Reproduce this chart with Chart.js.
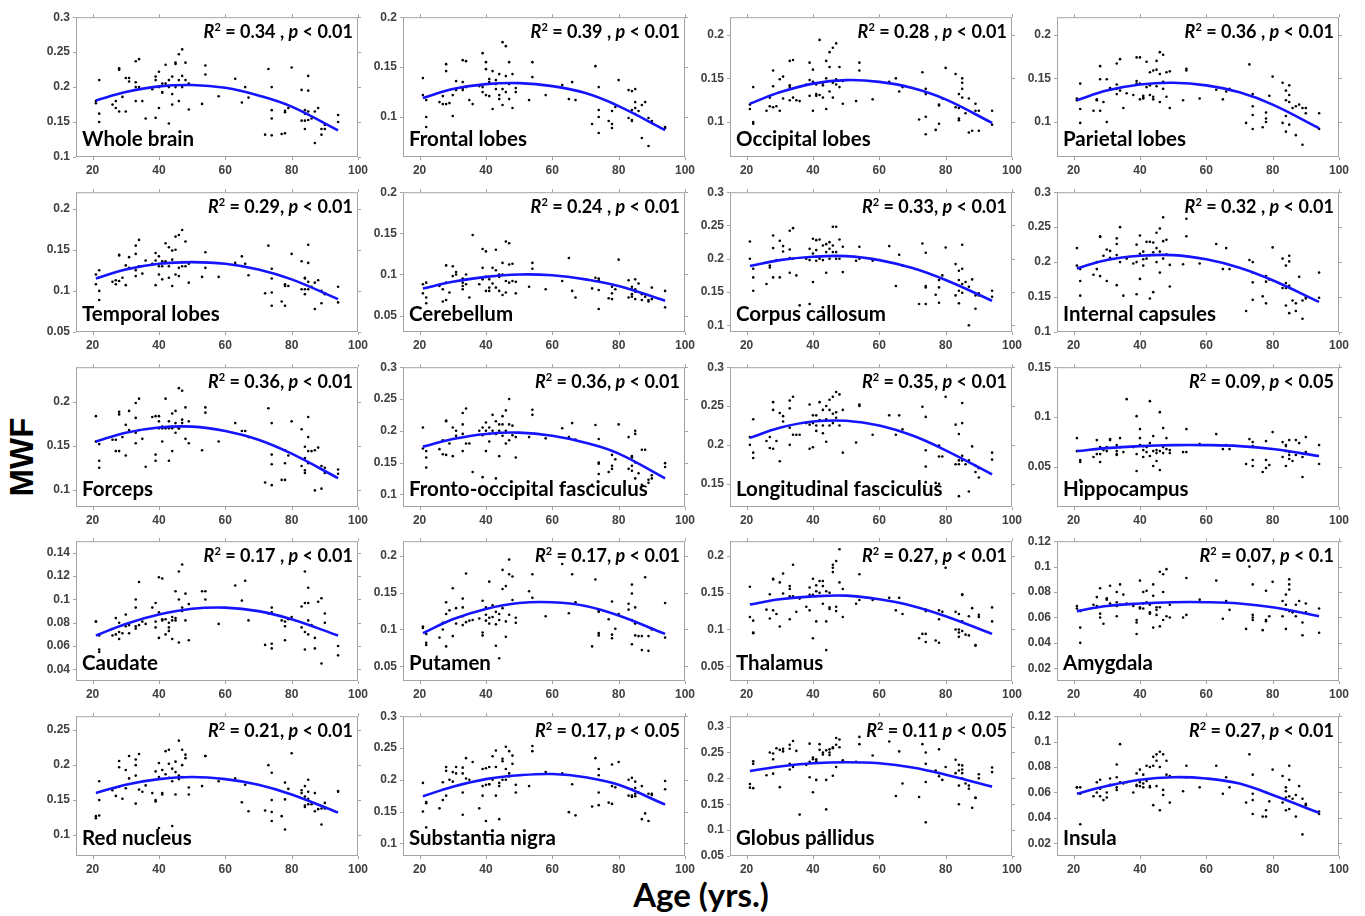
<!DOCTYPE html>
<html>
<head>
<meta charset="utf-8">
<title>MWF vs age</title>
<script src="https://cdn.jsdelivr.net/npm/chart.js@4.4.1/dist/chart.umd.min.js"></script>
<style>
  body { margin: 0; background: #fff; }
  #fig { position: relative; width: 1365px; height: 916px; overflow: hidden; }
  .panel { position: absolute; }
  .panel canvas { display: block; }
  .ylab { position: absolute; left: 22px; top: 457px; transform: translate(-50%, -50%) rotate(-90deg);
          font: bold 33px "Liberation Sans", Arial, sans-serif; color: #000; }
  .xlab { position: absolute; left: 701px; top: 894px; transform: translate(-50%, -50%);
          font: bold 33px Lato, sans-serif; color: #000; white-space: nowrap; }
</style>
</head>
<body>
<div id="fig">
  <div class="ylab">MWF</div>
  <div class="xlab">Age (yrs.)</div>
</div>
<script>
// subject ages (same subjects in every region)
const AGES = [21, 21, 22, 22, 22, 26, 27, 27, 28, 28, 28, 29, 30, 30, 31, 31,
  33, 33, 33, 33, 34, 34, 35, 36, 38, 39, 39, 39, 40, 40, 40, 41, 41, 41, 42, 42,
  43, 43, 43, 44, 44, 44, 45, 45, 45, 46, 46, 46, 47, 47, 47, 48, 48, 49, 49,
  53, 54, 54, 58, 63, 65, 66, 67, 72, 73, 74, 74, 74, 74, 77, 78, 78, 78, 79, 80,
  83, 83, 84, 84, 84, 84, 85, 85, 85, 85, 86, 87, 87, 88, 89, 89, 90, 90, 94, 94];

// ages where the quadratic fits are sampled
const FIT_AGES = [21, 30, 40, 50, 60, 70, 80, 94];
const X_TICKS = [20, 40, 60, 80, 100];

const wholeBrain = [0.177, 0.180, 0.210, 0.162, 0.150, 0.175, 0.170, 0.180, 0.227, 0.225, 0.165, 0.186, 0.213, 0.165, 0.213, 0.208,
  0.237, 0.207, 0.200, 0.180, 0.240, 0.200, 0.180, 0.155, 0.197, 0.215, 0.210, 0.156, 0.200, 0.170, 0.222, 0.205, 0.193, 0.192, 0.232, 0.205,
  0.148, 0.200, 0.210, 0.175, 0.215, 0.190, 0.235, 0.233, 0.200, 0.247, 0.210, 0.180, 0.254, 0.216, 0.200, 0.235, 0.210, 0.205, 0.168,
  0.176, 0.231, 0.218, 0.187, 0.212, 0.178, 0.200, 0.185, 0.132, 0.226, 0.200, 0.167, 0.155, 0.131, 0.133, 0.166, 0.164, 0.134, 0.170, 0.228,
  0.196, 0.152, 0.167, 0.162, 0.152, 0.140, 0.216, 0.195, 0.165, 0.153, 0.155, 0.120, 0.165, 0.170, 0.140, 0.132, 0.140, 0.146, 0.160, 0.150];
const wholeBrainFit = [0.181, 0.193, 0.201, 0.203, 0.199, 0.188, 0.172, 0.138];

const frontal = [0.122, 0.139, 0.100, 0.090, 0.117, 0.115, 0.121, 0.113, 0.153, 0.146, 0.113, 0.114, 0.101, 0.122, 0.127, 0.136,
  0.157, 0.129, 0.135, 0.127, 0.156, 0.130, 0.117, 0.113, 0.131, 0.164, 0.125, 0.130, 0.155, 0.122, 0.148, 0.121, 0.135, 0.138, 0.146, 0.108,
  0.128, 0.137, 0.133, 0.122, 0.143, 0.118, 0.175, 0.128, 0.112, 0.171, 0.141, 0.125, 0.155, 0.133, 0.118, 0.143, 0.109, 0.125, 0.129,
  0.117, 0.155, 0.140, 0.122, 0.132, 0.118, 0.135, 0.117, 0.093, 0.151, 0.130, 0.107, 0.100, 0.084, 0.096, 0.106, 0.093, 0.089, 0.110, 0.137,
  0.127, 0.099, 0.126, 0.097, 0.107, 0.096, 0.128, 0.109, 0.103, 0.115, 0.106, 0.079, 0.112, 0.115, 0.071, 0.099, 0.096, 0.094, 0.089, 0.090];
const frontalFit = [0.119, 0.128, 0.133, 0.134, 0.131, 0.124, 0.111, 0.087];

const occipital = [0.115, 0.120, 0.140, 0.100, 0.098, 0.113, 0.118, 0.128, 0.159, 0.141, 0.117, 0.118, 0.149, 0.113, 0.152, 0.127,
  0.170, 0.142, 0.140, 0.125, 0.171, 0.128, 0.125, 0.124, 0.143, 0.168, 0.148, 0.130, 0.113, 0.160, 0.146, 0.132, 0.130, 0.143, 0.194, 0.131,
  0.142, 0.145, 0.128, 0.170, 0.115, 0.150, 0.163, 0.135, 0.180, 0.185, 0.145, 0.128, 0.190, 0.149, 0.143, 0.163, 0.140, 0.121, 0.147,
  0.124, 0.168, 0.159, 0.126, 0.146, 0.150, 0.135, 0.140, 0.103, 0.157, 0.138, 0.132, 0.106, 0.086, 0.091, 0.120, 0.119, 0.098, 0.127, 0.162,
  0.155, 0.117, 0.132, 0.116, 0.104, 0.102, 0.150, 0.145, 0.138, 0.128, 0.110, 0.127, 0.088, 0.090, 0.121, 0.113, 0.113, 0.090, 0.113, 0.097];
const occipitalFit = [0.121, 0.134, 0.144, 0.148, 0.146, 0.139, 0.126, 0.099];

const parietal = [0.125, 0.127, 0.144, 0.115, 0.099, 0.113, 0.126, 0.125, 0.164, 0.149, 0.113, 0.123, 0.149, 0.100, 0.139, 0.138,
  0.167, 0.143, 0.138, 0.132, 0.172, 0.136, 0.116, 0.133, 0.131, 0.174, 0.147, 0.144, 0.174, 0.126, 0.144, 0.130, 0.127, 0.128, 0.169, 0.140,
  0.157, 0.142, 0.131, 0.159, 0.129, 0.126, 0.170, 0.160, 0.141, 0.180, 0.155, 0.123, 0.177, 0.138, 0.146, 0.157, 0.129, 0.158, 0.116,
  0.125, 0.161, 0.159, 0.127, 0.137, 0.126, 0.135, 0.138, 0.099, 0.166, 0.132, 0.118, 0.108, 0.092, 0.094, 0.111, 0.104, 0.100, 0.130, 0.152,
  0.145, 0.099, 0.136, 0.125, 0.107, 0.089, 0.142, 0.131, 0.123, 0.097, 0.116, 0.085, 0.118, 0.120, 0.074, 0.116, 0.116, 0.110, 0.110, 0.092];
const parietalFit = [0.125, 0.136, 0.143, 0.145, 0.142, 0.134, 0.120, 0.093];

const temporal = [0.108, 0.120, 0.125, 0.100, 0.089, 0.111, 0.108, 0.113, 0.144, 0.143, 0.112, 0.116, 0.131, 0.107, 0.141, 0.128,
  0.155, 0.145, 0.125, 0.118, 0.162, 0.130, 0.121, 0.137, 0.133, 0.146, 0.137, 0.107, 0.142, 0.120, 0.130, 0.136, 0.130, 0.114, 0.158, 0.136,
  0.153, 0.130, 0.116, 0.149, 0.138, 0.106, 0.166, 0.150, 0.120, 0.168, 0.128, 0.118, 0.174, 0.135, 0.130, 0.160, 0.130, 0.133, 0.110,
  0.117, 0.147, 0.128, 0.117, 0.134, 0.142, 0.133, 0.119, 0.097, 0.155, 0.127, 0.115, 0.098, 0.082, 0.087, 0.108, 0.106, 0.082, 0.106, 0.145,
  0.136, 0.102, 0.116, 0.115, 0.102, 0.096, 0.156, 0.134, 0.111, 0.102, 0.105, 0.078, 0.110, 0.113, 0.100, 0.085, 0.096, 0.097, 0.105, 0.086];
const temporalFit = [0.115, 0.126, 0.133, 0.135, 0.133, 0.126, 0.114, 0.090];

const cerebellum = [0.077, 0.088, 0.090, 0.072, 0.065, 0.086, 0.082, 0.067, 0.111, 0.090, 0.069, 0.078, 0.110, 0.098, 0.100, 0.103,
  0.095, 0.090, 0.086, 0.082, 0.100, 0.088, 0.072, 0.148, 0.088, 0.131, 0.108, 0.094, 0.128, 0.097, 0.080, 0.094, 0.084, 0.080, 0.108, 0.089,
  0.130, 0.105, 0.084, 0.100, 0.097, 0.080, 0.114, 0.100, 0.075, 0.140, 0.092, 0.078, 0.138, 0.112, 0.090, 0.113, 0.092, 0.091, 0.077,
  0.085, 0.114, 0.107, 0.082, 0.092, 0.120, 0.080, 0.072, 0.083, 0.096, 0.095, 0.093, 0.081, 0.058, 0.071, 0.085, 0.077, 0.070, 0.082, 0.118,
  0.093, 0.072, 0.085, 0.082, 0.076, 0.073, 0.094, 0.082, 0.079, 0.070, 0.089, 0.069, 0.076, 0.073, 0.067, 0.069, 0.084, 0.070, 0.080, 0.060];
const cerebellumFit = [0.083, 0.091, 0.097, 0.100, 0.099, 0.094, 0.086, 0.068];

const corpusCallosum = [0.200, 0.226, 0.185, 0.172, 0.152, 0.162, 0.190, 0.187, 0.235, 0.216, 0.172, 0.198, 0.227, 0.172, 0.219, 0.211,
  0.242, 0.214, 0.201, 0.179, 0.246, 0.200, 0.175, 0.130, 0.200, 0.215, 0.198, 0.132, 0.230, 0.208, 0.165, 0.228, 0.213, 0.197, 0.229, 0.200,
  0.220, 0.198, 0.127, 0.222, 0.210, 0.179, 0.225, 0.215, 0.200, 0.248, 0.220, 0.210, 0.248, 0.210, 0.200, 0.229, 0.200, 0.218, 0.180,
  0.197, 0.218, 0.200, 0.197, 0.219, 0.159, 0.206, 0.190, 0.132, 0.223, 0.209, 0.159, 0.157, 0.132, 0.146, 0.168, 0.157, 0.134, 0.175, 0.217,
  0.192, 0.145, 0.182, 0.168, 0.152, 0.133, 0.221, 0.185, 0.162, 0.149, 0.165, 0.100, 0.158, 0.169, 0.125, 0.145, 0.148, 0.145, 0.152, 0.143];
const corpusCallosumFit = [0.189, 0.198, 0.203, 0.204, 0.198, 0.186, 0.168, 0.137];

const internalCapsules = [0.195, 0.220, 0.190, 0.173, 0.152, 0.182, 0.190, 0.200, 0.237, 0.236, 0.180, 0.209, 0.218, 0.173, 0.216, 0.206,
  0.234, 0.226, 0.210, 0.167, 0.250, 0.200, 0.152, 0.205, 0.198, 0.225, 0.200, 0.154, 0.238, 0.212, 0.176, 0.215, 0.204, 0.195, 0.229, 0.205,
  0.229, 0.210, 0.148, 0.228, 0.214, 0.157, 0.242, 0.220, 0.200, 0.248, 0.215, 0.185, 0.264, 0.230, 0.205, 0.232, 0.211, 0.196, 0.165,
  0.197, 0.262, 0.237, 0.198, 0.226, 0.190, 0.220, 0.190, 0.130, 0.203, 0.200, 0.185, 0.171, 0.146, 0.151, 0.180, 0.172, 0.141, 0.175, 0.221,
  0.205, 0.163, 0.195, 0.170, 0.163, 0.138, 0.209, 0.201, 0.166, 0.127, 0.145, 0.130, 0.141, 0.179, 0.119, 0.145, 0.148, 0.150, 0.185, 0.149];
const internalCapsulesFit = [0.191, 0.203, 0.209, 0.210, 0.204, 0.192, 0.174, 0.143];

const forceps = [0.155, 0.184, 0.152, 0.133, 0.125, 0.157, 0.144, 0.157, 0.189, 0.186, 0.144, 0.160, 0.174, 0.139, 0.190, 0.168,
  0.199, 0.182, 0.165, 0.153, 0.204, 0.168, 0.158, 0.126, 0.183, 0.184, 0.140, 0.133, 0.184, 0.178, 0.170, 0.172, 0.155, 0.170, 0.204, 0.170,
  0.178, 0.170, 0.133, 0.187, 0.170, 0.144, 0.190, 0.176, 0.165, 0.216, 0.170, 0.170, 0.213, 0.180, 0.176, 0.194, 0.158, 0.178, 0.153,
  0.145, 0.194, 0.188, 0.155, 0.176, 0.167, 0.167, 0.160, 0.108, 0.193, 0.176, 0.140, 0.129, 0.105, 0.111, 0.145, 0.130, 0.111, 0.139, 0.178,
  0.169, 0.127, 0.149, 0.136, 0.122, 0.119, 0.183, 0.160, 0.144, 0.130, 0.144, 0.099, 0.145, 0.148, 0.101, 0.127, 0.119, 0.125, 0.123, 0.118];
const forcepsFit = [0.155, 0.165, 0.171, 0.172, 0.167, 0.157, 0.141, 0.113];

const frontoOccipital = [0.172, 0.205, 0.168, 0.158, 0.142, 0.171, 0.185, 0.163, 0.216, 0.215, 0.162, 0.180, 0.205, 0.160, 0.200, 0.192,
  0.228, 0.210, 0.195, 0.168, 0.235, 0.180, 0.180, 0.135, 0.200, 0.205, 0.193, 0.127, 0.213, 0.200, 0.168, 0.205, 0.195, 0.183, 0.225, 0.200,
  0.215, 0.195, 0.125, 0.210, 0.200, 0.160, 0.223, 0.210, 0.192, 0.232, 0.200, 0.180, 0.250, 0.210, 0.185, 0.208, 0.193, 0.190, 0.158,
  0.190, 0.233, 0.225, 0.188, 0.204, 0.190, 0.212, 0.186, 0.115, 0.209, 0.187, 0.150, 0.148, 0.132, 0.135, 0.162, 0.145, 0.140, 0.155, 0.210,
  0.190, 0.140, 0.160, 0.158, 0.145, 0.137, 0.200, 0.195, 0.150, 0.125, 0.133, 0.115, 0.170, 0.170, 0.123, 0.118, 0.125, 0.130, 0.149, 0.143];
const frontoOccipitalFit = [0.175, 0.187, 0.195, 0.197, 0.192, 0.181, 0.164, 0.125];

const longitudinal = [0.200, 0.210, 0.233, 0.190, 0.183, 0.205, 0.196, 0.210, 0.255, 0.245, 0.195, 0.205, 0.241, 0.179, 0.237, 0.230,
  0.257, 0.247, 0.222, 0.200, 0.262, 0.213, 0.213, 0.213, 0.228, 0.252, 0.226, 0.195, 0.238, 0.228, 0.197, 0.238, 0.225, 0.218, 0.255, 0.232,
  0.245, 0.225, 0.215, 0.250, 0.233, 0.204, 0.258, 0.245, 0.225, 0.262, 0.240, 0.228, 0.268, 0.242, 0.235, 0.265, 0.225, 0.245, 0.190,
  0.203, 0.252, 0.250, 0.213, 0.238, 0.213, 0.238, 0.220, 0.150, 0.249, 0.236, 0.193, 0.172, 0.152, 0.151, 0.199, 0.185, 0.150, 0.185, 0.262,
  0.226, 0.175, 0.214, 0.180, 0.175, 0.134, 0.254, 0.228, 0.186, 0.180, 0.175, 0.140, 0.180, 0.198, 0.173, 0.165, 0.158, 0.170, 0.190, 0.181];
const longitudinalFit = [0.209, 0.222, 0.230, 0.231, 0.225, 0.212, 0.193, 0.162];

const hippocampus = [0.066, 0.079, 0.057, 0.055, 0.037, 0.060, 0.077, 0.063, 0.070, 0.063, 0.055, 0.067, 0.070, 0.066, 0.078, 0.077,
  0.072, 0.066, 0.063, 0.062, 0.079, 0.070, 0.065, 0.118, 0.070, 0.101, 0.063, 0.046, 0.088, 0.079, 0.072, 0.071, 0.067, 0.060, 0.070, 0.065,
  0.116, 0.074, 0.061, 0.081, 0.066, 0.051, 0.067, 0.064, 0.056, 0.105, 0.066, 0.047, 0.089, 0.070, 0.064, 0.079, 0.068, 0.067, 0.064,
  0.065, 0.088, 0.065, 0.073, 0.083, 0.068, 0.072, 0.068, 0.053, 0.078, 0.075, 0.071, 0.057, 0.051, 0.045, 0.076, 0.057, 0.049, 0.052, 0.085,
  0.075, 0.060, 0.072, 0.071, 0.066, 0.051, 0.077, 0.065, 0.062, 0.058, 0.056, 0.077, 0.062, 0.074, 0.040, 0.060, 0.080, 0.065, 0.072, 0.053];
const hippocampusFit = [0.066, 0.069, 0.071, 0.072, 0.072, 0.071, 0.068, 0.061];

const caudate = [0.081, 0.081, 0.057, 0.055, 0.069, 0.069, 0.084, 0.070, 0.080, 0.072, 0.066, 0.071, 0.087, 0.077, 0.078, 0.071,
  0.100, 0.093, 0.077, 0.075, 0.115, 0.078, 0.081, 0.079, 0.093, 0.097, 0.081, 0.076, 0.119, 0.089, 0.067, 0.118, 0.082, 0.083, 0.083, 0.070,
  0.080, 0.076, 0.073, 0.085, 0.082, 0.066, 0.107, 0.084, 0.082, 0.124, 0.100, 0.063, 0.130, 0.093, 0.090, 0.105, 0.082, 0.096, 0.065,
  0.107, 0.107, 0.100, 0.079, 0.112, 0.099, 0.116, 0.082, 0.061, 0.088, 0.093, 0.089, 0.062, 0.058, 0.082, 0.081, 0.077, 0.065, 0.083, 0.085,
  0.094, 0.076, 0.124, 0.097, 0.072, 0.057, 0.110, 0.097, 0.082, 0.070, 0.078, 0.067, 0.058, 0.098, 0.101, 0.045, 0.088, 0.080, 0.060, 0.052];
const caudateFit = [0.069, 0.079, 0.087, 0.092, 0.093, 0.090, 0.083, 0.069];

const putamen = [0.102, 0.104, 0.082, 0.079, 0.094, 0.089, 0.100, 0.109, 0.137, 0.121, 0.077, 0.126, 0.156, 0.091, 0.129, 0.108,
  0.142, 0.130, 0.118, 0.106, 0.176, 0.110, 0.112, 0.113, 0.115, 0.139, 0.096, 0.092, 0.130, 0.120, 0.112, 0.165, 0.116, 0.108, 0.133, 0.117,
  0.124, 0.107, 0.078, 0.121, 0.113, 0.061, 0.181, 0.155, 0.129, 0.159, 0.111, 0.090, 0.195, 0.175, 0.120, 0.172, 0.140, 0.116, 0.109,
  0.152, 0.175, 0.143, 0.118, 0.189, 0.122, 0.175, 0.137, 0.077, 0.168, 0.126, 0.124, 0.095, 0.092, 0.114, 0.138, 0.093, 0.088, 0.101, 0.121,
  0.135, 0.127, 0.161, 0.149, 0.113, 0.080, 0.130, 0.110, 0.108, 0.092, 0.091, 0.072, 0.091, 0.171, 0.071, 0.091, 0.101, 0.100, 0.136, 0.089];
const putamenFit = [0.095, 0.114, 0.128, 0.136, 0.137, 0.132, 0.119, 0.094];

const thalamus = [0.158, 0.117, 0.112, 0.096, 0.095, 0.127, 0.115, 0.148, 0.169, 0.168, 0.126, 0.121, 0.164, 0.104, 0.176, 0.149,
  0.159, 0.155, 0.145, 0.114, 0.188, 0.145, 0.124, 0.142, 0.131, 0.157, 0.147, 0.126, 0.169, 0.147, 0.088, 0.160, 0.152, 0.111, 0.166, 0.150,
  0.166, 0.159, 0.135, 0.152, 0.111, 0.072, 0.150, 0.130, 0.128, 0.188, 0.184, 0.178, 0.193, 0.131, 0.125, 0.209, 0.164, 0.155, 0.117,
  0.135, 0.175, 0.140, 0.140, 0.143, 0.126, 0.143, 0.121, 0.088, 0.094, 0.127, 0.125, 0.094, 0.083, 0.085, 0.126, 0.114, 0.082, 0.124, 0.184,
  0.124, 0.100, 0.121, 0.100, 0.096, 0.090, 0.148, 0.147, 0.111, 0.098, 0.093, 0.092, 0.118, 0.129, 0.079, 0.078, 0.117, 0.120, 0.130, 0.111];
const thalamusFit = [0.134, 0.141, 0.145, 0.146, 0.141, 0.132, 0.118, 0.094];

const amygdala = [0.067, 0.069, 0.052, 0.040, 0.065, 0.070, 0.069, 0.076, 0.083, 0.063, 0.060, 0.055, 0.075, 0.074, 0.085, 0.071,
  0.080, 0.072, 0.069, 0.061, 0.086, 0.070, 0.078, 0.071, 0.069, 0.058, 0.056, 0.047, 0.089, 0.068, 0.067, 0.080, 0.067, 0.071, 0.081, 0.072,
  0.070, 0.064, 0.063, 0.086, 0.077, 0.052, 0.068, 0.066, 0.062, 0.096, 0.068, 0.053, 0.094, 0.080, 0.058, 0.098, 0.061, 0.070, 0.060,
  0.060, 0.091, 0.062, 0.074, 0.089, 0.059, 0.073, 0.066, 0.051, 0.100, 0.086, 0.062, 0.060, 0.058, 0.050, 0.081, 0.058, 0.057, 0.061, 0.088,
  0.073, 0.061, 0.078, 0.070, 0.066, 0.051, 0.090, 0.086, 0.082, 0.065, 0.064, 0.070, 0.061, 0.073, 0.046, 0.056, 0.071, 0.064, 0.067, 0.048];
const amygdalaFit = [0.065, 0.069, 0.071, 0.072, 0.072, 0.071, 0.068, 0.061];

const redNucleus = [0.124, 0.127, 0.128, 0.177, 0.150, 0.164, 0.156, 0.168, 0.206, 0.197, 0.169, 0.152, 0.193, 0.167, 0.213, 0.181,
  0.208, 0.200, 0.185, 0.145, 0.216, 0.165, 0.162, 0.171, 0.160, 0.191, 0.150, 0.148, 0.203, 0.183, 0.110, 0.193, 0.158, 0.160, 0.220, 0.187,
  0.222, 0.202, 0.182, 0.195, 0.177, 0.113, 0.205, 0.190, 0.158, 0.235, 0.185, 0.180, 0.222, 0.200, 0.183, 0.215, 0.210, 0.168, 0.158,
  0.170, 0.213, 0.213, 0.177, 0.181, 0.147, 0.172, 0.134, 0.135, 0.200, 0.189, 0.150, 0.133, 0.120, 0.127, 0.175, 0.151, 0.108, 0.166, 0.217,
  0.164, 0.160, 0.170, 0.155, 0.142, 0.140, 0.179, 0.162, 0.152, 0.144, 0.144, 0.134, 0.160, 0.137, 0.115, 0.138, 0.146, 0.138, 0.163, 0.162];
const redNucleusFit = [0.160, 0.172, 0.180, 0.183, 0.180, 0.172, 0.158, 0.132];

const substantiaNigra = [0.150, 0.195, 0.165, 0.163, 0.125, 0.155, 0.168, 0.196, 0.220, 0.214, 0.175, 0.200, 0.212, 0.197, 0.220, 0.210,
  0.219, 0.210, 0.180, 0.145, 0.234, 0.202, 0.200, 0.228, 0.155, 0.217, 0.190, 0.175, 0.218, 0.192, 0.135, 0.220, 0.193, 0.193, 0.237, 0.200,
  0.246, 0.220, 0.175, 0.195, 0.190, 0.138, 0.233, 0.229, 0.200, 0.252, 0.217, 0.200, 0.245, 0.210, 0.205, 0.238, 0.225, 0.192, 0.180,
  0.190, 0.253, 0.245, 0.212, 0.210, 0.149, 0.193, 0.144, 0.158, 0.234, 0.217, 0.207, 0.180, 0.160, 0.164, 0.224, 0.190, 0.162, 0.188, 0.228,
  0.200, 0.175, 0.203, 0.185, 0.175, 0.173, 0.197, 0.187, 0.178, 0.174, 0.180, 0.138, 0.190, 0.147, 0.135, 0.178, 0.178, 0.176, 0.198, 0.185];
const substantiaNigraFit = [0.174, 0.189, 0.201, 0.207, 0.209, 0.204, 0.192, 0.161];

const globusPallidus = [0.189, 0.182, 0.233, 0.228, 0.181, 0.206, 0.220, 0.250, 0.248, 0.237, 0.209, 0.258, 0.255, 0.183, 0.257, 0.252,
  0.265, 0.257, 0.228, 0.217, 0.272, 0.222, 0.253, 0.130, 0.226, 0.267, 0.232, 0.202, 0.240, 0.173, 0.237, 0.237, 0.197, 0.233, 0.266, 0.255,
  0.250, 0.246, 0.096, 0.254, 0.197, 0.140, 0.256, 0.250, 0.245, 0.260, 0.258, 0.205, 0.278, 0.265, 0.222, 0.275, 0.260, 0.235, 0.232,
  0.232, 0.266, 0.280, 0.244, 0.271, 0.166, 0.252, 0.190, 0.164, 0.266, 0.250, 0.228, 0.193, 0.115, 0.215, 0.256, 0.210, 0.204, 0.197, 0.222,
  0.236, 0.210, 0.226, 0.215, 0.186, 0.150, 0.225, 0.217, 0.210, 0.200, 0.190, 0.180, 0.186, 0.143, 0.163, 0.162, 0.208, 0.200, 0.221, 0.212];
const globusPallidusFit = [0.214, 0.223, 0.229, 0.231, 0.229, 0.221, 0.207, 0.184];

const insula = [0.064, 0.064, 0.059, 0.035, 0.064, 0.057, 0.060, 0.068, 0.070, 0.063, 0.057, 0.054, 0.060, 0.056, 0.071, 0.066,
  0.082, 0.072, 0.064, 0.062, 0.098, 0.068, 0.067, 0.068, 0.060, 0.075, 0.066, 0.065, 0.078, 0.068, 0.065, 0.074, 0.067, 0.064, 0.081, 0.069,
  0.080, 0.065, 0.064, 0.088, 0.081, 0.050, 0.090, 0.085, 0.065, 0.092, 0.080, 0.046, 0.090, 0.062, 0.058, 0.085, 0.074, 0.073, 0.052,
  0.061, 0.081, 0.072, 0.064, 0.081, 0.059, 0.072, 0.064, 0.052, 0.090, 0.074, 0.059, 0.054, 0.043, 0.041, 0.060, 0.046, 0.041, 0.053, 0.078,
  0.073, 0.052, 0.064, 0.061, 0.056, 0.046, 0.081, 0.070, 0.057, 0.047, 0.055, 0.041, 0.058, 0.065, 0.027, 0.055, 0.050, 0.051, 0.045, 0.043];
const insulaFit = [0.059, 0.065, 0.070, 0.072, 0.071, 0.067, 0.058, 0.044];

// one entry per subplot, row by row
const PANELS = [
  { name: 'Whole brain', mwf: wholeBrain, fit: wholeBrainFit, r2: '0.34 ,', p: '0.01', min: 0.1, max: 0.3, ticks: [0.1, 0.15, 0.2, 0.25, 0.3] },
  { name: 'Frontal lobes', mwf: frontal, fit: frontalFit, r2: '0.39 ,', p: '0.01', min: 0.06, max: 0.2, ticks: [0.1, 0.15, 0.2] },
  { name: 'Occipital lobes', mwf: occipital, fit: occipitalFit, r2: '0.28 ,', p: '0.01', min: 0.06, max: 0.22, ticks: [0.1, 0.15, 0.2] },
  { name: 'Parietal lobes', mwf: parietal, fit: parietalFit, r2: '0.36 ,', p: '0.01', min: 0.06, max: 0.22, ticks: [0.1, 0.15, 0.2] },
  { name: 'Temporal lobes', mwf: temporal, fit: temporalFit, r2: '0.29,', p: '0.01', min: 0.05, max: 0.22, ticks: [0.05, 0.1, 0.15, 0.2] },
  { name: 'Cerebellum', mwf: cerebellum, fit: cerebellumFit, r2: '0.24 ,', p: '0.01', min: 0.03, max: 0.2, ticks: [0.05, 0.1, 0.15, 0.2] },
  { name: 'Corpus callosum', mwf: corpusCallosum, fit: corpusCallosumFit, r2: '0.33,', p: '0.01', min: 0.09, max: 0.3, ticks: [0.1, 0.15, 0.2, 0.25, 0.3] },
  { name: 'Internal capsules', mwf: internalCapsules, fit: internalCapsulesFit, r2: '0.32 ,', p: '0.01', min: 0.1, max: 0.3, ticks: [0.1, 0.15, 0.2, 0.25, 0.3] },
  { name: 'Forceps', mwf: forceps, fit: forcepsFit, r2: '0.36,', p: '0.01', min: 0.08, max: 0.24, ticks: [0.1, 0.15, 0.2] },
  { name: 'Fronto-occipital fasciculus', mwf: frontoOccipital, fit: frontoOccipitalFit, r2: '0.36,', p: '0.01', min: 0.08, max: 0.3, ticks: [0.1, 0.15, 0.2, 0.25, 0.3] },
  { name: 'Longitudinal fasciculus', mwf: longitudinal, fit: longitudinalFit, r2: '0.35,', p: '0.01', min: 0.12, max: 0.3, ticks: [0.15, 0.2, 0.25, 0.3] },
  { name: 'Hippocampus', mwf: hippocampus, fit: hippocampusFit, r2: '0.09,', p: '0.05', min: 0.01, max: 0.15, ticks: [0.05, 0.1, 0.15] },
  { name: 'Caudate', mwf: caudate, fit: caudateFit, r2: '0.17 ,', p: '0.01', min: 0.03, max: 0.15, ticks: [0.04, 0.06, 0.08, 0.1, 0.12, 0.14] },
  { name: 'Putamen', mwf: putamen, fit: putamenFit, r2: '0.17,', p: '0.01', min: 0.03, max: 0.22, ticks: [0.05, 0.1, 0.15, 0.2] },
  { name: 'Thalamus', mwf: thalamus, fit: thalamusFit, r2: '0.27,', p: '0.01', min: 0.03, max: 0.22, ticks: [0.05, 0.1, 0.15, 0.2] },
  { name: 'Amygdala', mwf: amygdala, fit: amygdalaFit, r2: '0.07,', p: '0.1', min: 0.01, max: 0.12, ticks: [0.02, 0.04, 0.06, 0.08, 0.1, 0.12] },
  { name: 'Red nucleus', mwf: redNucleus, fit: redNucleusFit, r2: '0.21,', p: '0.01', min: 0.07, max: 0.27, ticks: [0.1, 0.15, 0.2, 0.25] },
  { name: 'Substantia nigra', mwf: substantiaNigra, fit: substantiaNigraFit, r2: '0.17,', p: '0.05', min: 0.08, max: 0.3, ticks: [0.1, 0.15, 0.2, 0.25, 0.3] },
  { name: 'Globus pallidus', mwf: globusPallidus, fit: globusPallidusFit, r2: '0.11', p: '0.05', min: 0.05, max: 0.32, ticks: [0.05, 0.1, 0.15, 0.2, 0.25, 0.3] },
  { name: 'Insula', mwf: insula, fit: insulaFit, r2: '0.27,', p: '0.01', min: 0.01, max: 0.12, ticks: [0.02, 0.04, 0.06, 0.08, 0.1, 0.12] }
];

// plot box placement on the page
const BOX_LEFT = [76, 403, 730, 1057];
const BOX_TOP = [12, 187, 362, 536, 711];
const BOX_W = 284, BOX_H = 145;
const Y_AXIS_W = 44, X_AXIS_H = 22, PAD_T = 8, PAD_R = 14;

const FRAME_COLOR = '#a3a3a3';
const TICK_FONT = { family: '"Liberation Sans", Arial, sans-serif', size: 12, weight: 'bold' };
const LABEL_FONT = 'Lato, "Liberation Sans", sans-serif';

// box around the axes with short outward ticks
const framePlugin = {
  id: 'frame',
  beforeDatasetsDraw(chart) {
    const { ctx, chartArea: a, scales: { x, y } } = chart;
    ctx.save();
    ctx.strokeStyle = FRAME_COLOR;
    ctx.lineWidth = 1;
    ctx.strokeRect(a.left + 0.5, a.top + 0.5, a.width - 1, a.height - 1);
    ctx.beginPath();
    x.ticks.forEach(t => {
      const px = Math.round(x.getPixelForValue(t.value)) + 0.5;
      ctx.moveTo(px, a.bottom); ctx.lineTo(px, a.bottom + 3);
      ctx.moveTo(px, a.top); ctx.lineTo(px, a.top - 3);
    });
    y.ticks.forEach(t => {
      const py = Math.round(y.getPixelForValue(t.value)) + 0.5;
      ctx.moveTo(a.left, py); ctx.lineTo(a.left - 3, py);
      ctx.moveTo(a.right, py); ctx.lineTo(a.right + 3, py);
    });
    ctx.stroke();
    ctx.restore();
  }
};

// region name (bottom left) and the R²/p annotation (top right)
const notePlugin = {
  id: 'note',
  afterDraw(chart, args, opts) {
    const { ctx, chartArea: a } = chart;
    ctx.save();
    ctx.fillStyle = '#000';
    ctx.textBaseline = 'alphabetic';

    ctx.font = `bold 20.5px ${LABEL_FONT}`;
    ctx.fillText(opts.name, a.left + 6, a.bottom - 11);

    const size = 18;
    const parts = [
      { t: 'R', f: `italic bold ${size}px ${LABEL_FONT}`, dy: 0 },
      { t: '2', f: `bold ${Math.round(size * 0.6)}px ${LABEL_FONT}`, dy: -7 },
      { t: ' = ' + opts.r2 + ' ', f: `bold ${size}px ${LABEL_FONT}`, dy: 0 },
      { t: 'p', f: `italic bold ${size}px ${LABEL_FONT}`, dy: 0 },
      { t: ' < ' + opts.p, f: `bold ${size}px ${LABEL_FONT}`, dy: 0 }
    ];
    let total = 0;
    parts.forEach(s => { ctx.font = s.f; s.w = ctx.measureText(s.t).width; total += s.w; });
    let x = a.right - 5 - total;
    const base = a.top + 21;
    parts.forEach(s => {
      ctx.font = s.f;
      ctx.fillText(s.t, x, base + s.dy);
      x += s.w;
    });
    ctx.restore();
  }
};

const fig = document.getElementById('fig');

PANELS.forEach((p, i) => {
  const col = i % 4, row = Math.floor(i / 4);
  const holder = document.createElement('div');
  holder.className = 'panel';
  holder.style.left = (BOX_LEFT[col] - Y_AXIS_W) + 'px';
  holder.style.top = (BOX_TOP[row] - PAD_T) + 'px';
  const canvas = document.createElement('canvas');
  canvas.width = BOX_W + Y_AXIS_W + PAD_R;
  canvas.height = BOX_H + PAD_T + X_AXIS_H;
  holder.appendChild(canvas);
  fig.appendChild(holder);

  new Chart(canvas, {
    type: 'scatter',
    data: {
      datasets: [
        {
          label: 'fit',
          data: FIT_AGES.map((a, k) => ({ x: a, y: p.fit[k] })),
          showLine: true,
          borderColor: '#1414ff',
          borderWidth: 2.6,
          pointRadius: 0,
          tension: 0.4,
          fill: false
        },
        {
          label: 'MWF',
          data: AGES.map((a, k) => ({ x: a, y: p.mwf[k] })),
          backgroundColor: '#000',
          borderWidth: 0,
          pointRadius: 1.3
        }
      ]
    },
    options: {
      responsive: false,
      animation: false,
      events: [],
      layout: { padding: { top: PAD_T, right: PAD_R, left: 0, bottom: 0 } },
      plugins: {
        legend: { display: false },
        tooltip: { enabled: false },
        note: { name: p.name, r2: p.r2, p: p.p }
      },
      scales: {
        x: {
          type: 'linear', min: 15, max: 100,
          afterBuildTicks: s => { s.ticks = X_TICKS.map(v => ({ value: v })); },
          afterFit: s => { s.height = X_AXIS_H; },
          grid: { display: false, drawTicks: false },
          border: { display: false },
          ticks: { color: '#404040', font: TICK_FONT, padding: 6, maxRotation: 0, autoSkip: false }
        },
        y: {
          type: 'linear', min: p.min, max: p.max,
          afterBuildTicks: s => { s.ticks = p.ticks.map(v => ({ value: v })); },
          afterFit: s => { s.width = Y_AXIS_W; },
          grid: { display: false, drawTicks: false },
          border: { display: false },
          ticks: { color: '#404040', font: TICK_FONT, padding: 6, autoSkip: false,
                   callback: v => String(+v.toFixed(3)) }
        }
      }
    },
    plugins: [framePlugin, notePlugin]
  });
});
</script>
</body>
</html>
